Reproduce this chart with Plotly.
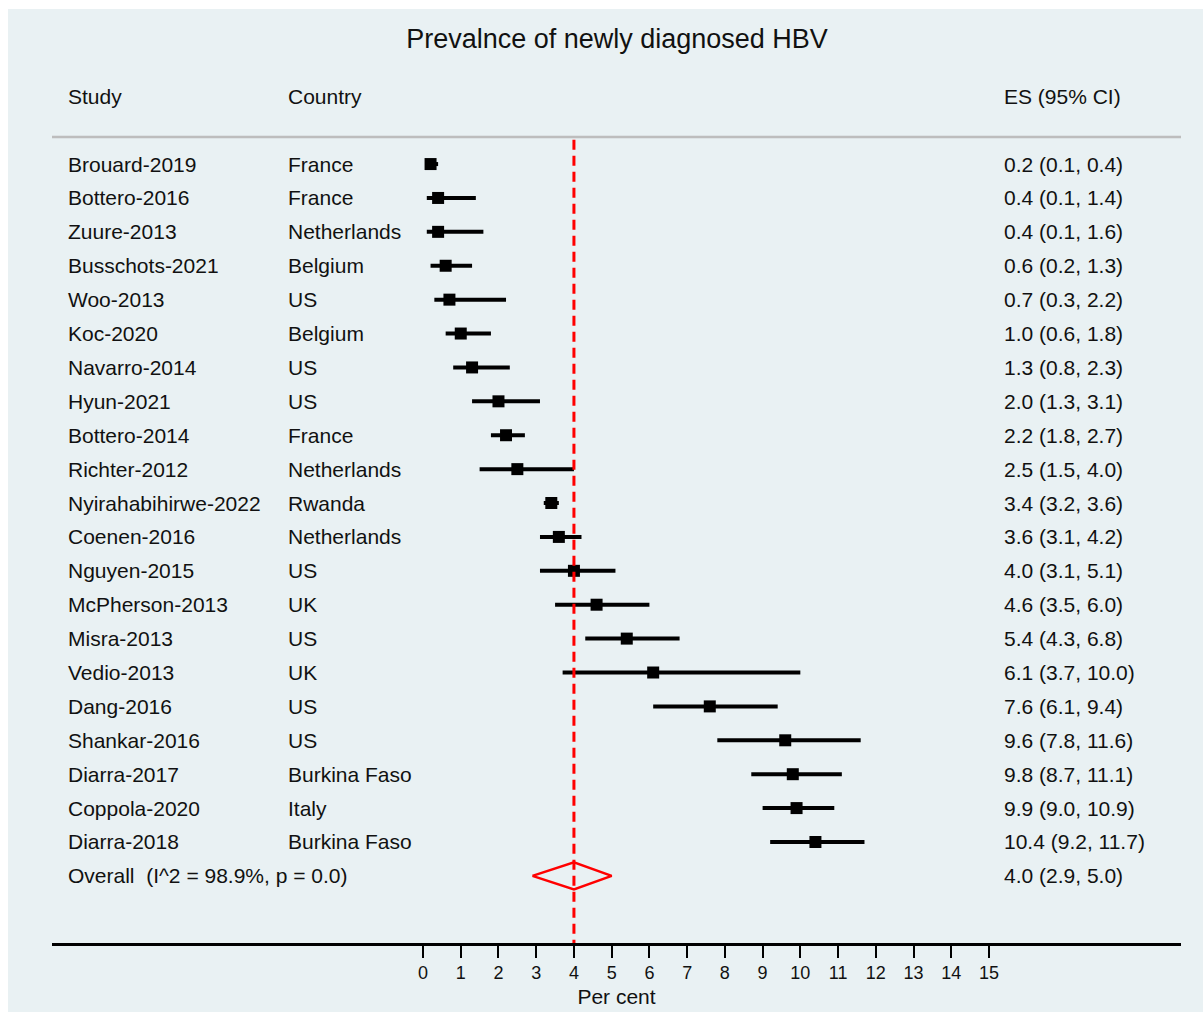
import plotly.graph_objects as go

# ---- data -------------------------------------------------------------
studies = [
    "Brouard-2019", "Bottero-2016", "Zuure-2013", "Busschots-2021", "Woo-2013",
    "Koc-2020", "Navarro-2014", "Hyun-2021", "Bottero-2014", "Richter-2012",
    "Nyirahabihirwe-2022", "Coenen-2016", "Nguyen-2015", "McPherson-2013",
    "Misra-2013", "Vedio-2013", "Dang-2016", "Shankar-2016", "Diarra-2017",
    "Coppola-2020", "Diarra-2018",
]
countries = [
    "France", "France", "Netherlands", "Belgium", "US",
    "Belgium", "US", "US", "France", "Netherlands",
    "Rwanda", "Netherlands", "US", "UK",
    "US", "UK", "US", "US", "Burkina Faso",
    "Italy", "Burkina Faso",
]
es = [0.2, 0.4, 0.4, 0.6, 0.7, 1.0, 1.3, 2.0, 2.2, 2.5,
      3.4, 3.6, 4.0, 4.6, 5.4, 6.1, 7.6, 9.6, 9.8, 9.9, 10.4]
ci_low = [0.1, 0.1, 0.1, 0.2, 0.3, 0.6, 0.8, 1.3, 1.8, 1.5,
          3.2, 3.1, 3.1, 3.5, 4.3, 3.7, 6.1, 7.8, 8.7, 9.0, 9.2]
ci_high = [0.4, 1.4, 1.6, 1.3, 2.2, 1.8, 2.3, 3.1, 2.7, 4.0,
           3.6, 4.2, 5.1, 6.0, 6.8, 10.0, 9.4, 11.6, 11.1, 10.9, 11.7]

overall_label = "Overall  (I^2 = 98.9%, p = 0.0)"
overall_es = 4.0
overall_low = 2.9
overall_high = 5.0

x_ticks = list(range(0, 16))

title_text = "Prevalnce of newly diagnosed HBV"
header_study = "Study"
header_country = "Country"
header_es = "ES (95% CI)"
x_title = "Per cent"

# ---- layout geometry --------------------------------------------------
W, H = 1203, 1012
ML, MR, MT, MB = 52, 22, 0, 69
PLOT_W = W - ML - MR
FONT = "Liberation Sans, Arial, sans-serif"
BG = "#E9F1F3"
TXT = "#111111"


def xpaper(px):
    return (px - ML) / PLOT_W


n = len(studies)
rows = list(range(n))
overall_row = n

fig = go.Figure()

# study estimates with confidence intervals
fig.add_trace(go.Scatter(
    x=es, y=rows, mode="markers",
    marker=dict(symbol="square", size=12, color="black", line=dict(width=0)),
    error_x=dict(type="data", symmetric=False,
                 array=[h - e for h, e in zip(ci_high, es)],
                 arrayminus=[e - l for e, l in zip(es, ci_low)],
                 thickness=4, width=0, color="black"),
    showlegend=False, hoverinfo="skip",
))

# pooled estimate reference line
fig.add_trace(go.Scatter(
    x=[overall_es, overall_es], y=[-0.72, 22.98], mode="lines",
    line=dict(color="#FF0000", width=3, dash="10px,6px"),
    showlegend=False, hoverinfo="skip",
))

# pooled estimate diamond
fig.add_trace(go.Scatter(
    x=[overall_low, overall_es, overall_high, overall_es, overall_low],
    y=[overall_row, overall_row - 0.4, overall_row, overall_row + 0.4, overall_row],
    mode="lines", line=dict(color="#FF0000", width=2.5),
    showlegend=False, hoverinfo="skip",
))

annotations = []


def label(text, px, y, size=21):
    annotations.append(dict(
        text=text, x=xpaper(px), xref="paper", y=y, yref="y",
        xanchor="left", yanchor="middle", showarrow=False,
        font=dict(family=FONT, size=size, color=TXT),
    ))


STUDY_X, COUNTRY_X, ES_X = 66, 286, 1002

# column headers
label(header_study, STUDY_X, -1.98)
label(header_country, COUNTRY_X, -1.98)
label(header_es, ES_X, -1.98)

# study rows
for i in rows:
    label(studies[i], STUDY_X, i)
    label(countries[i], COUNTRY_X, i)
    label(f"{es[i]:.1f} ({ci_low[i]:.1f}, {ci_high[i]:.1f})", ES_X, i)

# overall row
label(overall_label, STUDY_X, overall_row)
label(f"{overall_es:.1f} ({overall_low:.1f}, {overall_high:.1f})", ES_X, overall_row)

shapes = [
    # graph region background
    dict(type="rect", xref="paper", yref="paper",
         x0=xpaper(8), x1=xpaper(W + 5),
         y0=-(MB + 5) / (H - MT - MB), y1=(H - MT - MB - 9) / (H - MT - MB),
         fillcolor=BG, line=dict(width=0), layer="below"),
    # header separator
    dict(type="line", xref="paper", yref="y", x0=0, x1=1, y0=-0.8, y1=-0.8,
         line=dict(color="#BDBDBD", width=2.5), layer="below"),
]

fig.update_layout(
    width=W, height=H,
    margin=dict(l=ML, r=MR, t=MT, b=MB, pad=0),
    paper_bgcolor="white", plot_bgcolor="rgba(0,0,0,0)",
    title=dict(text=title_text, x=617 / W, xanchor="center",
               y=1 - 39 / H, yanchor="middle",
               font=dict(family=FONT, size=27, color=TXT)),
    annotations=annotations, shapes=shapes,
    xaxis=dict(
        range=[-(423 - ML) / 37.73, 15 + (W - MR - 989) / 37.73],
        tickvals=x_ticks, ticktext=[str(t) for t in x_ticks],
        showgrid=False, zeroline=False,
        showline=True, linecolor="black", linewidth=2.5,
        ticks="outside", ticklen=12, tickwidth=2, tickcolor="black",
        tickfont=dict(family=FONT, size=18, color=TXT),
        title=dict(text=x_title, font=dict(family=FONT, size=21, color=TXT),
                   standoff=7),
    ),
    yaxis=dict(range=[22.98, -4.84], visible=False, showgrid=False,
               zeroline=False),
)

fig.write_html("out.html")
